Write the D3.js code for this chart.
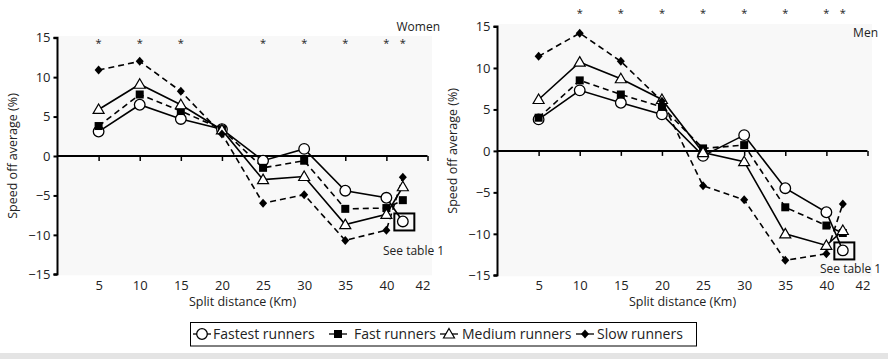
<!DOCTYPE html>
<html>
<head>
<meta charset="utf-8">
<script src="https://cdn.jsdelivr.net/npm/d3@7"></script>
<style>
  body { margin: 0; background: #fff; }
  svg { display: block; }
  text { font-family: "Open Sans", sans-serif; fill: #222; }
</style>
</head>
<body>
<svg id="chart" width="888" height="359"></svg>
<script>
// ---- data ----
const distances = [5, 10, 15, 20, 25, 30, 35, 40, 42];
const seriesNames = ["Fastest runners", "Fast runners", "Medium runners", "Slow runners"];

const womenFastest = [3.1, 6.5, 4.7, 3.4, -0.6, 0.9, -4.4, -5.3, -8.3];
const womenFast    = [3.8, 7.8, 5.7, 3.4, -1.5, -0.6, -6.7, -6.6, -5.6];
const womenMedium  = [5.9, 9.1, 6.5, 3.3, -3.0, -2.6, -8.7, -7.4, -3.9];
const womenSlow    = [10.9, 12.0, 8.2, 2.8, -6.0, -4.9, -10.7, -9.4, -2.7];

const menFastest = [3.8, 7.3, 5.8, 4.4, -0.6, 1.9, -4.5, -7.4, -12.0];
const menFast    = [4.0, 8.5, 6.8, 5.3, 0.3, 0.7, -6.8, -9.0, -9.9];
const menMedium  = [6.2, 10.7, 8.7, 6.2, -0.2, -1.3, -10.0, -11.4, -9.6];
const menSlow    = [11.4, 14.2, 10.8, 6.0, -4.2, -5.9, -13.2, -12.4, -6.4];

const womenStars = [5, 10, 15, 25, 30, 35, 40, 42];
const menStars   = [10, 15, 20, 25, 30, 35, 40, 42];

const yTicks = [-15, -10, -5, 0, 5, 10, 15];
const xTickValues = [5, 10, 15, 20, 25, 30, 35, 40, 45];
const xTickLabels = ["5", "10", "15", "20", "25", "30", "35", "40", "42"];

// ---- styles ----
const styles = [
  { symbol: "circle",   fill: "#fff",  dash: null },
  { symbol: "square",   fill: "#000",  dash: "6,4" },
  { symbol: "triangle", fill: "#fff",  dash: null },
  { symbol: "diamond",  fill: "#000",  dash: "6,4" }
];

const svg = d3.select("#chart");

function drawMarker(g, type, fill, cx, cy) {
  if (type === "circle") {
    g.append("circle").attr("cx", cx).attr("cy", cy).attr("r", 5.3)
      .attr("fill", fill).attr("stroke", "#000").attr("stroke-width", 1.3);
  } else if (type === "square") {
    g.append("rect").attr("x", cx - 4).attr("y", cy - 4).attr("width", 8).attr("height", 8)
      .attr("fill", fill);
  } else if (type === "triangle") {
    g.append("path").attr("d", `M${cx},${cy - 5.5}L${cx + 5.5},${cy + 4}L${cx - 5.5},${cy + 4}Z`)
      .attr("fill", fill).attr("stroke", "#000").attr("stroke-width", 1.2);
  } else if (type === "diamond") {
    g.append("path").attr("d", `M${cx},${cy - 4.5}L${cx + 4},${cy}L${cx},${cy + 4.5}L${cx - 4},${cy}Z`)
      .attr("fill", fill);
  }
}

function panel(cfg) {
  const g = svg.append("g");
  const x = d3.scaleLinear().domain([0, 45]).range([cfg.x0, cfg.x1]);
  const y = d3.scaleLinear().domain([-15, 15]).range([cfg.yBottom, cfg.yTop]);

  // background
  g.append("rect")
    .attr("x", x(0) + 1).attr("y", cfg.bgTop)
    .attr("width", cfg.bgRight - x(0) - 1).attr("height", y(-15) - cfg.bgTop + 1)
    .attr("fill", "#f8f8f8");

  // y axis
  const yAxis = g.append("g").attr("transform", `translate(${x(0)},0)`)
    .call(d3.axisLeft(y).tickValues(yTicks).tickSize(4).tickPadding(3)
      .tickFormat(d => d < 0 ? "\u2212" + Math.abs(d) : String(d)));
  yAxis.select(".domain").attr("stroke", "#000").attr("stroke-width", 2)
    .attr("d", `M-4,${y(15)}H0V${y(-15)}H-4`);
  yAxis.selectAll(".tick line").attr("stroke", "#000").attr("stroke-width", 2);
  yAxis.selectAll(".tick text").style("font-size", "13px").style("font-family", "'Open Sans', sans-serif").attr("fill", "#222");

  // zero line with ticks
  const zAxis = g.append("g").attr("transform", `translate(0,${y(0)})`)
    .call(d3.axisBottom(x).tickValues(xTickValues).tickSize(5).tickFormat(""));
  zAxis.select(".domain").attr("stroke", "#000").attr("stroke-width", 2)
    .attr("d", `M${x(0)},0H${x(45)}`);
  zAxis.selectAll(".tick line").attr("stroke", "#000").attr("stroke-width", 1.5);

  // bottom tick labels
  const bAxis = g.append("g").attr("transform", `translate(0,${cfg.labelY})`)
    .call(d3.axisBottom(x).tickValues(xTickValues).tickSize(0).tickPadding(0)
      .tickFormat((d, i) => xTickLabels[i]));
  bAxis.select(".domain").remove();
  bAxis.selectAll(".tick text").style("font-size", "13px").style("font-family", "'Open Sans', sans-serif")
    .attr("fill", "#222").attr("dy", "0").attr("y", 0);
  bAxis.selectAll(".tick").filter((d) => d === 45).select("text").attr("x", -5);

  // axis titles
  g.append("text").attr("x", x(22.5)).attr("y", cfg.xTitleY).attr("text-anchor", "middle")
    .style("font-size", "12.5px").text("Split distance (Km)");
  g.append("text").attr("transform", `translate(${cfg.yTitleX},${y(0)}) rotate(-90)`)
    .attr("text-anchor", "middle").style("font-size", "12.5px").text("Speed off average (%)");

  // asterisks
  g.selectAll(".star").data(cfg.stars).enter().append("text")
    .attr("x", d => x(d)).attr("y", cfg.starY).attr("text-anchor", "middle")
    .style("font-size", "11px").attr("fill", "#666").text("*");

  // series lines
  const line = d3.line().x((d, i) => x(distances[i])).y(d => y(d));
  cfg.series.forEach((vals, si) => {
    g.append("path").attr("d", line(vals)).attr("fill", "none")
      .attr("stroke", "#000").attr("stroke-width", 1.6)
      .attr("stroke-dasharray", styles[si].dash);
  });
  // markers
  cfg.series.forEach((vals, si) => {
    const mg = g.append("g");
    vals.forEach((v, i) => drawMarker(mg, styles[si].symbol, styles[si].fill, x(distances[i]), y(v)));
  });

  // box around fastest last value
  const last = cfg.series[0][cfg.series[0].length - 1];
  g.append("rect").attr("x", x(42) - 8.5).attr("y", y(last) - 8)
    .attr("width", 20).attr("height", 17)
    .attr("fill", "none").attr("stroke", "#000").attr("stroke-width", 2);
  g.append("text").attr("x", cfg.seeX).attr("y", cfg.seeY).style("font-size", "12px").text("See table 1");

  // panel label
  g.append("text").attr("x", cfg.labelX).attr("y", cfg.labelYPos).attr("text-anchor", "end")
    .style("font-size", "12px").text(cfg.label);
}

panel({
  x0: 57.5, x1: 427.5, yTop: 37.7, yBottom: 274.3, bgTop: 36, bgRight: 432,
  labelY: 290, xTitleY: 306, yTitleX: 17, starY: 47, seeX: 383, seeY: 255,
  labelX: 440, labelYPos: 31, label: "Women",
  stars: womenStars, series: [womenFastest, womenFast, womenMedium, womenSlow]
});
panel({
  x0: 497.5, x1: 867.5, yTop: 26.5, yBottom: 275.3, bgTop: 24, bgRight: 872,
  labelY: 290, xTitleY: 306, yTitleX: 457, starY: 17, seeX: 820, seeY: 273,
  labelX: 878, labelYPos: 37, label: "Men",
  stars: menStars, series: [menFastest, menFast, menMedium, menSlow]
});

// bottom strip
svg.append("rect").attr("x", 0).attr("y", 353).attr("width", 888).attr("height", 6).attr("fill", "#e4e4e4");

// legend
const legend = svg.append("g");
legend.append("rect").attr("x", 190.5).attr("y", 322.5).attr("width", 506).attr("height", 23.5)
  .attr("fill", "#fff").attr("stroke", "#000").attr("stroke-width", 1);
const legendX = [202, 338, 449, 585];
const legendTextX = [213, 354, 462, 597];
seriesNames.forEach((name, i) => {
  const cx = legendX[i], cy = 334;
  legend.append("line").attr("x1", cx - 9).attr("x2", cx + 9).attr("y1", cy).attr("y2", cy)
    .attr("stroke", "#000").attr("stroke-width", 1.3);
  drawMarker(legend, styles[i].symbol, styles[i].fill, cx, cy);
  legend.append("text").attr("x", legendTextX[i]).attr("y", cy + 5)
    .style("font-size", "14px").text(name);
});
</script>
</body>
</html>
